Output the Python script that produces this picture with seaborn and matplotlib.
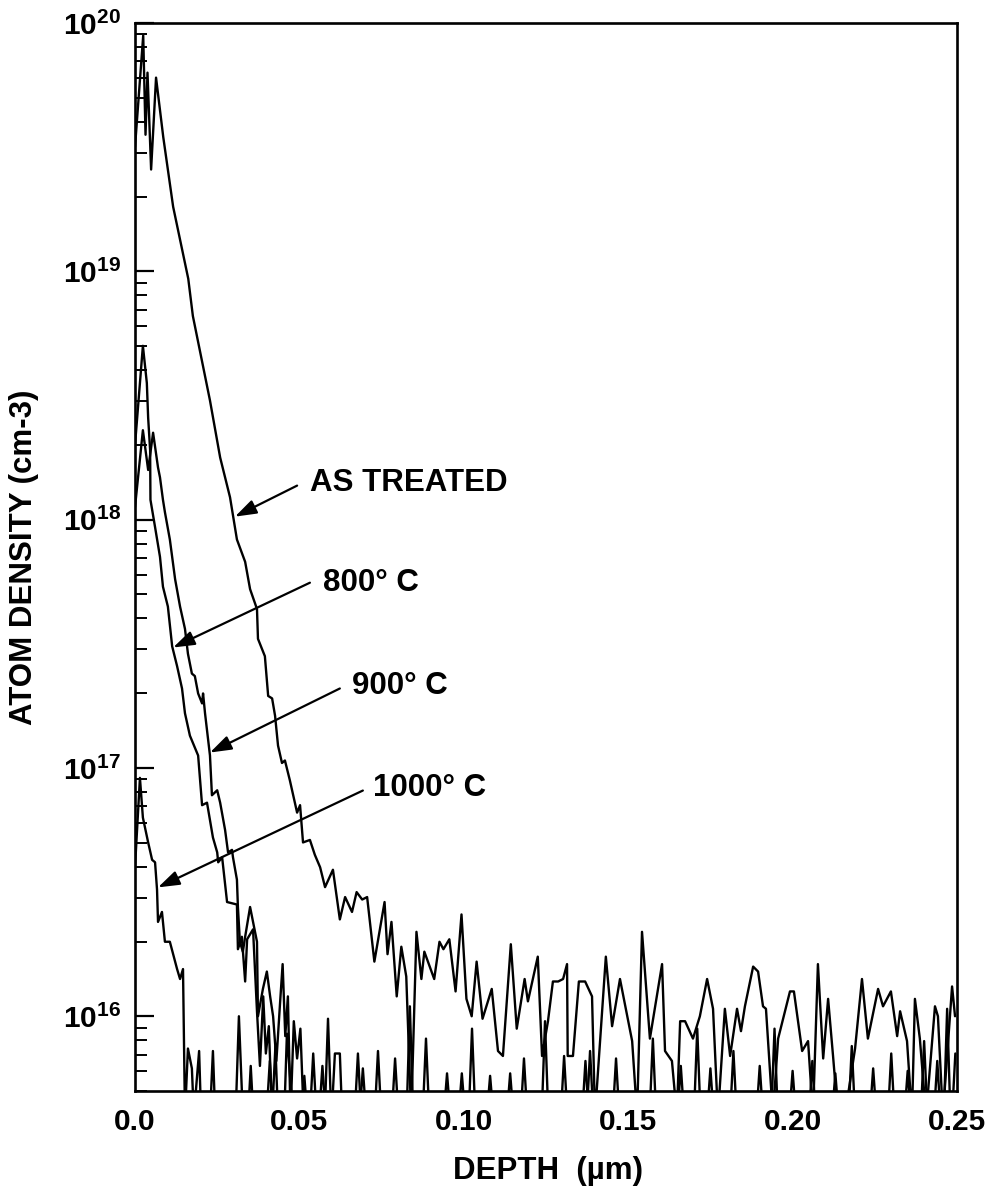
import numpy as np
import pandas as pd
import matplotlib
matplotlib.use("Agg")
import matplotlib.pyplot as plt
import seaborn as sns

# ---------------- data (depth in um, log10 of atom density in cm-3) ----------------
as_treated_depth = [0.0000, 0.0025, 0.0032, 0.0038, 0.0049, 0.0064, 0.0086, 0.0116, 0.0162, 0.0176,
                    0.0228, 0.0259, 0.0289, 0.0310, 0.0335, 0.0350, 0.0371, 0.0374, 0.0395, 0.0405,
                    0.0417, 0.0426, 0.0435, 0.0447, 0.0456, 0.0471, 0.0493, 0.0502, 0.0511, 0.0532,
                    0.0547, 0.0563, 0.0578, 0.0602, 0.0623, 0.0639, 0.0660, 0.0674, 0.0691, 0.0706,
                    0.0728, 0.0759, 0.0768, 0.0780, 0.0796, 0.0810, 0.0825, 0.0840, 0.0856, 0.0871,
                    0.0880, 0.0910, 0.0926, 0.0938, 0.0956, 0.0975, 0.0993, 0.1008, 0.1024, 0.1039,
                    0.1057, 0.1085, 0.1104, 0.1119, 0.1143, 0.1161, 0.1185, 0.1195, 0.1225, 0.1238,
                    0.1256, 0.1271, 0.1287, 0.1302, 0.1314, 0.1316, 0.1332, 0.1350, 0.1369, 0.1390,
                    0.1399, 0.1432, 0.1451, 0.1475, 0.1512, 0.1527, 0.1542, 0.1566, 0.1603, 0.1612,
                    0.1633, 0.1648, 0.1658, 0.1673, 0.1697, 0.1718, 0.1740, 0.1758, 0.1773, 0.1794,
                    0.1810, 0.1831, 0.1843, 0.1855, 0.1880, 0.1895, 0.1910, 0.1919, 0.1940, 0.1956,
                    0.1992, 0.2004, 0.2029, 0.2047, 0.2062, 0.2077, 0.2093, 0.2108, 0.2123, 0.2138,
                    0.2159, 0.2190, 0.2211, 0.2229, 0.2260, 0.2275, 0.2299, 0.2318, 0.2327, 0.2348,
                    0.2363, 0.2372, 0.2387, 0.2406, 0.2433, 0.2442, 0.2457, 0.2485, 0.2494]
as_treated_log = [19.50, 19.95, 19.55, 19.80, 19.41, 19.78, 19.54, 19.26, 18.97, 18.82,
                  18.48, 18.25, 18.09, 17.92, 17.83, 17.72, 17.64, 17.52, 17.45, 17.29,
                  17.28, 17.21, 17.09, 17.02, 17.03, 16.95, 16.82, 16.85, 16.70, 16.71,
                  16.65, 16.60, 16.52, 16.59, 16.39, 16.48, 16.42, 16.50, 16.47, 16.48,
                  16.22, 16.46, 16.25, 16.38, 16.08, 16.28, 16.16, 15.60, 16.34, 16.15,
                  16.26, 16.15, 16.30, 16.27, 16.31, 16.10, 16.41, 16.07, 16.00, 16.22,
                  15.99, 16.11, 15.86, 15.84, 16.29, 15.95, 16.15, 16.06, 16.24, 15.84,
                  15.98, 16.14, 16.14, 16.15, 16.21, 15.84, 15.84, 16.14, 16.14, 16.08,
                  15.60, 16.24, 15.96, 16.15, 15.90, 15.60, 16.34, 15.91, 16.21, 15.86,
                  15.82, 15.60, 15.98, 15.98, 15.91, 16.00, 16.15, 16.03, 15.60, 16.03,
                  15.84, 16.03, 15.94, 16.04, 16.20, 16.18, 16.04, 16.03, 15.60, 15.91,
                  16.10, 16.10, 15.86, 15.90, 15.60, 16.21, 15.83, 16.07, 15.84, 15.60,
                  15.60, 15.87, 16.15, 15.91, 16.11, 16.04, 16.10, 15.92, 16.02, 15.90,
                  15.60, 16.07, 15.91, 15.60, 16.04, 16.00, 15.60, 16.12, 16.00]

c800_depth = [0.0000, 0.0024, 0.0036, 0.0040, 0.0046, 0.0047, 0.0061, 0.0076, 0.0085, 0.0100,
              0.0113, 0.0128, 0.0143, 0.0152, 0.0167, 0.0192, 0.0204, 0.0219, 0.0237, 0.0250,
              0.0253, 0.0265, 0.0280, 0.0310, 0.0313, 0.0325, 0.0335, 0.0341, 0.0359, 0.0371,
              0.0380, 0.0390, 0.0398, 0.0407, 0.0417, 0.0427, 0.0435, 0.0454, 0.0462, 0.0472,
              0.0482, 0.0505, 0.0515, 0.0524, 0.0598, 0.0608, 0.0623, 0.0630, 0.0668, 0.0678,
              0.0688, 0.0729, 0.0739, 0.0749, 0.0826, 0.0836, 0.0846, 0.0939, 0.0949, 0.0959,
              0.1015, 0.1025, 0.1035, 0.1173, 0.1183, 0.1193, 0.1295, 0.1305, 0.1315, 0.1360,
              0.1370, 0.1380, 0.1453, 0.1463, 0.1473, 0.1650, 0.1660, 0.1670, 0.1740, 0.1750,
              0.1760, 0.1890, 0.1900, 0.1910, 0.1990, 0.2000, 0.2010, 0.2120, 0.2130, 0.2140,
              0.2235, 0.2245, 0.2255, 0.2340, 0.2350, 0.2360, 0.2430, 0.2440, 0.2450, 0.2485,
              0.2495]
c800_log = [18.30, 18.70, 18.55, 18.41, 18.28, 18.08, 17.97, 17.85, 17.73, 17.65,
            17.49, 17.41, 17.32, 17.22, 17.13, 17.05, 16.85, 16.86, 16.72, 16.66,
            16.62, 16.64, 16.46, 16.45, 16.27, 16.32, 16.14, 16.31, 16.35, 16.02,
            15.80, 16.08, 15.85, 15.96, 15.60, 15.88, 15.60, 15.60, 15.93, 15.75,
            15.60, 15.60, 15.76, 15.60, 15.60, 15.85, 15.85, 15.60, 15.60, 15.85,
            15.60, 15.60, 15.86, 15.60, 15.60, 16.04, 15.60, 15.60, 15.77, 15.60,
            15.60, 15.95, 15.60, 15.60, 15.83, 15.60, 15.60, 15.84, 15.60, 15.60,
            15.82, 15.60, 15.60, 15.83, 15.60, 15.60, 15.80, 15.60, 15.60, 15.79,
            15.60, 15.60, 15.80, 15.60, 15.60, 15.78, 15.60, 15.60, 15.77, 15.60,
            15.60, 15.79, 15.60, 15.60, 15.78, 15.60, 15.60, 15.82, 15.60, 15.60,
            15.85]

c900_depth = [0.0000, 0.0024, 0.0040, 0.0055, 0.0070, 0.0076, 0.0085, 0.0091, 0.0106, 0.0122,
              0.0137, 0.0152, 0.0161, 0.0173, 0.0182, 0.0192, 0.0204, 0.0207, 0.0213, 0.0228,
              0.0234, 0.0250, 0.0259, 0.0274, 0.0283, 0.0295, 0.0298, 0.0310, 0.0313, 0.0319,
              0.0328, 0.0335, 0.0350, 0.0365, 0.0371, 0.0374, 0.0389, 0.0401, 0.0411, 0.0420,
              0.0430, 0.0441, 0.0449, 0.0457, 0.0465, 0.0473, 0.0483, 0.0493, 0.0503, 0.0513,
              0.0532, 0.0542, 0.0552, 0.0577, 0.0587, 0.0597, 0.0683, 0.0693, 0.0703, 0.0781,
              0.0791, 0.0801, 0.0875, 0.0885, 0.0895, 0.0984, 0.0994, 0.1004, 0.1131, 0.1141,
              0.1151, 0.1237, 0.1247, 0.1257, 0.1374, 0.1384, 0.1394, 0.1565, 0.1575, 0.1585,
              0.1700, 0.1710, 0.1720, 0.1810, 0.1820, 0.1830, 0.1935, 0.1945, 0.1955, 0.2050,
              0.2060, 0.2070, 0.2170, 0.2180, 0.2190, 0.2290, 0.2300, 0.2310, 0.2390, 0.2400,
              0.2410, 0.2460, 0.2470, 0.2480]
c900_log = [18.05, 18.36, 18.20, 18.35, 18.21, 18.17, 18.08, 18.03, 17.92, 17.76,
            17.65, 17.56, 17.46, 17.38, 17.37, 17.30, 17.26, 17.30, 17.22, 17.05,
            16.89, 16.91, 16.86, 16.75, 16.66, 16.67, 16.64, 16.55, 16.44, 16.30,
            16.26, 16.32, 16.44, 16.34, 16.30, 16.00, 16.11, 16.18, 16.08, 16.00,
            15.82, 16.05, 16.21, 15.92, 16.08, 15.60, 15.98, 15.83, 15.95, 15.60,
            15.60, 15.85, 15.60, 15.60, 15.99, 15.60, 15.60, 15.79, 15.60, 15.60,
            15.83, 15.60, 15.60, 15.91, 15.60, 15.60, 15.77, 15.60, 15.60, 15.77,
            15.60, 15.60, 15.98, 15.60, 15.60, 15.86, 15.60, 15.60, 15.91, 15.60,
            15.60, 15.95, 15.60, 15.60, 15.86, 15.60, 15.60, 15.95, 15.60, 15.60,
            15.82, 15.60, 15.60, 15.88, 15.60, 15.60, 15.85, 15.60, 15.60, 15.90,
            15.60, 15.60, 16.03, 15.60]

c1000_depth = [0.0000, 0.0015, 0.0024, 0.0040, 0.0052, 0.0061, 0.0067, 0.0070, 0.0082, 0.0091,
               0.0106, 0.0128, 0.0137, 0.0146, 0.0152, 0.0161, 0.0173, 0.0179, 0.0195, 0.0201,
               0.0228, 0.0237, 0.0244, 0.0306, 0.0316, 0.0328, 0.0344, 0.0352, 0.0360, 0.0400,
               0.0410, 0.0420, 0.0560, 0.0570, 0.0580, 0.1070, 0.1080, 0.1090, 0.2500]
c1000_log = [16.60, 16.96, 16.80, 16.70, 16.63, 16.62, 16.51, 16.38, 16.42, 16.30,
             16.30, 16.19, 16.15, 16.19, 15.60, 15.87, 15.79, 15.60, 15.86, 15.60,
             15.60, 15.86, 15.60, 15.60, 16.00, 15.60, 15.60, 15.80, 15.60, 15.60,
             15.82, 15.60, 15.60, 15.80, 15.60, 15.60, 15.76, 15.60, 15.60]

series_names = ["AS TREATED", "800° C", "900° C", "1000° C"]
x_ticks = [0.0, 0.05, 0.10, 0.15, 0.20, 0.25]
x_tick_labels = ["0.0", "0.05", "0.10", "0.15", "0.20", "0.25"]
y_ticks = [1e16, 1e17, 1e18, 1e19, 1e20]
y_tick_labels = [r"$10^{16}$", r"$10^{17}$", r"$10^{18}$", r"$10^{19}$", r"$10^{20}$"]

# annotation: label, text anchor (depth, density), arrow start, arrow tip
ann_labels = ["AS TREATED", "800° C", "900° C", "1000° C"]
ann_text_xy = [(0.0532, 10**18.149), (0.0572, 10**17.746), (0.0660, 10**17.328), (0.0724, 10**16.921)]
ann_start_xy = [(0.0493, 10**18.137), (0.0532, 10**17.746), (0.0623, 10**17.320), (0.0693, 10**16.909)]
ann_tip_xy = [(0.0304, 10**18.012), (0.0116, 10**17.485), (0.0228, 10**17.062), (0.0070, 10**16.519)]

# ---------------- build table ----------------
frames = []
for name, d, lg in [(series_names[0], as_treated_depth, as_treated_log),
                    (series_names[1], c800_depth, c800_log),
                    (series_names[2], c900_depth, c900_log),
                    (series_names[3], c1000_depth, c1000_log)]:
    frames.append(pd.DataFrame({"depth": d, "density": np.power(10.0, lg), "series": name}))
df = pd.concat(frames, ignore_index=True)

# ---------------- style ----------------
sns.set_style("ticks")
plt.rcParams["font.family"] = ["Liberation Sans", "DejaVu Sans"]
plt.rcParams["font.weight"] = "bold"
plt.rcParams["text.color"] = "black"
plt.rcParams["axes.labelcolor"] = "black"
plt.rcParams["xtick.color"] = "black"
plt.rcParams["ytick.color"] = "black"
plt.rcParams["mathtext.fontset"] = "custom"
plt.rcParams["mathtext.rm"] = "Liberation Sans:bold"
plt.rcParams["mathtext.bf"] = "Liberation Sans:bold"
plt.rcParams["mathtext.it"] = "Liberation Sans:bold"
plt.rcParams["mathtext.default"] = "rm"

fig = plt.figure(figsize=(9.97, 12.0), dpi=100)
ax = fig.add_axes([135 / 997, 1 - 1091 / 1200, 822 / 997, 1068 / 1200])

sns.lineplot(data=df, x="depth", y="density", hue="series", hue_order=series_names,
             palette={s: "black" for s in series_names}, estimator=None, sort=False,
             linewidth=1.7, legend=False, ax=ax)

ax.set_yscale("log")
ax.set_xlim(0, 0.25)
ax.set_ylim(5e15, 1e20)

ax.set_xticks(x_ticks)
ax.set_xticklabels(x_tick_labels)
ax.set_yticks(y_ticks)
ax.set_yticklabels(y_tick_labels)
ax.yaxis.set_minor_locator(matplotlib.ticker.LogLocator(base=10, subs=np.arange(2, 10)))
ax.yaxis.set_minor_formatter(matplotlib.ticker.NullFormatter())

ax.tick_params(axis="x", length=0, pad=12, labelsize=21.5, labelcolor="black")
ax.tick_params(axis="y", which="major", direction="in", length=14, width=1.6, pad=10,
               labelsize=21.5, labelcolor="black", color="black")
ax.tick_params(axis="y", which="minor", direction="in", length=8.5, width=1.4, color="black")
for lab in ax.get_xticklabels() + ax.get_yticklabels():
    lab.set_fontweight("bold")

for sp in ax.spines.values():
    sp.set_visible(True)
    sp.set_linewidth(1.9)
    sp.set_color("black")

ax.set_xlabel("DEPTH  (µm)", fontsize=22.5, fontweight="bold", va="center", color="black")
ax.xaxis.set_label_coords(0.5025, -0.0749)
ax.set_ylabel("ATOM DENSITY (cm-3)", fontsize=22.5, fontweight="bold", va="center", color="black")
ax.yaxis.set_label_coords(-0.1350, 0.5)

for lab, txy, sxy, pxy in zip(ann_labels, ann_text_xy, ann_start_xy, ann_tip_xy):
    ax.annotate("", xy=pxy, xytext=sxy, xycoords="data", textcoords="data",
                arrowprops=dict(arrowstyle="-|>,head_length=0.65,head_width=0.22",
                                mutation_scale=20, lw=1.6, color="black",
                                shrinkA=0, shrinkB=0))
    ax.text(txy[0], txy[1], lab, fontsize=22.5, fontweight="bold", ha="left", va="center",
            color="black")

fig.savefig("out.png", dpi=100)
